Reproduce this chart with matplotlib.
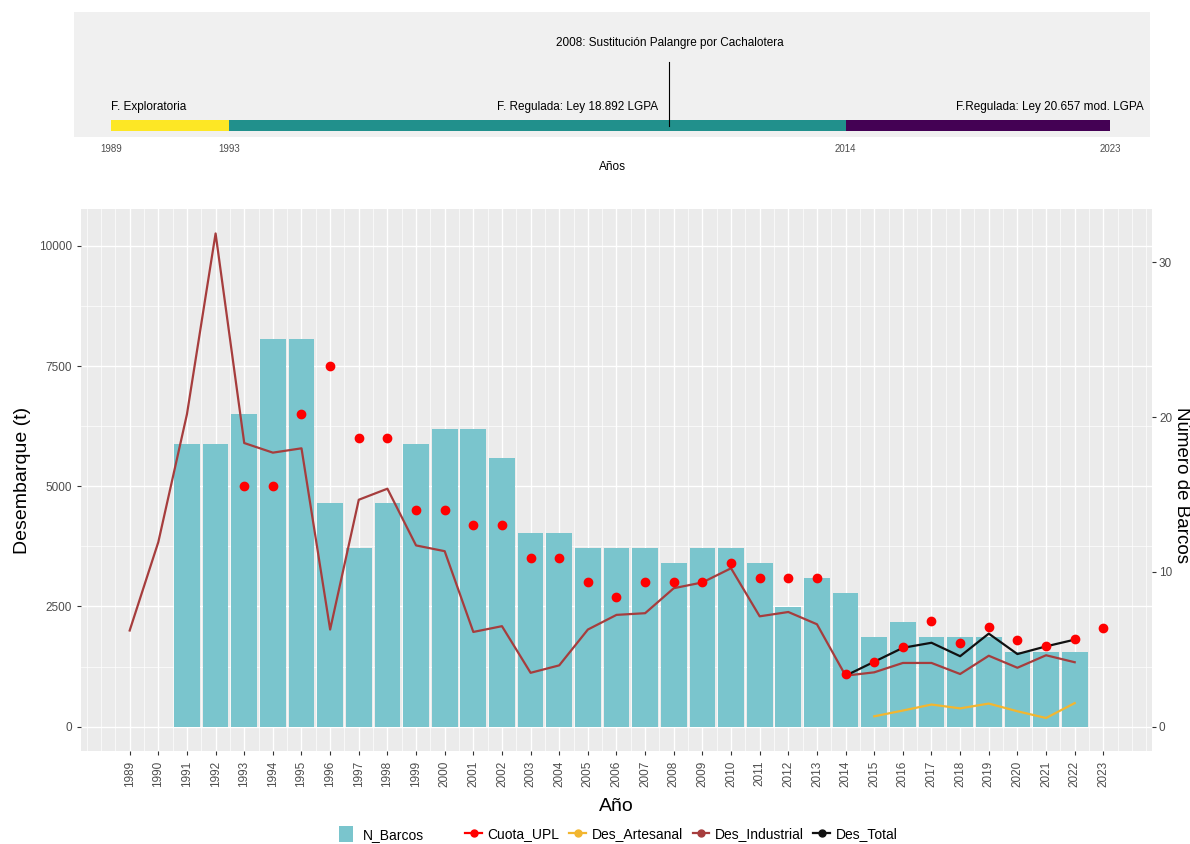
import numpy as np
import matplotlib
matplotlib.use('Agg')
import matplotlib.pyplot as plt
from matplotlib.patches import Patch
from matplotlib.lines import Line2D
from matplotlib.ticker import MultipleLocator

plt.rcParams['font.family'] = ['Liberation Sans', 'DejaVu Sans']

#Datos de la pesqueria
anios_barcos = list(range(1991, 2023))
n_barcos = [19, 19, 21, 26, 26, 15, 12, 15, 19, 20, 20, 18, 13, 13, 12, 12,
            12, 11, 12, 12, 11, 8, 10, 9, 6, 7, 6, 6, 6, 5, 5, 5]

anios_industrial = list(range(1989, 2023))
des_industrial = [2000, 3840, 6500, 10260, 5900, 5700, 5790, 2020, 4720, 4950,
                  3770, 3650, 1970, 2090, 1120, 1275, 2020, 2325, 2360, 2880,
                  3000, 3295, 2295, 2385, 2130, 1060, 1130, 1325, 1325, 1095,
                  1475, 1225, 1485, 1340]

anios_artesanal = list(range(2015, 2023))
des_artesanal = [215, 335, 460, 380, 480, 320, 180, 490]

anios_total = list(range(2014, 2023))
des_total = [1060, 1350, 1640, 1745, 1465, 1935, 1510, 1670, 1810]

anios_cuota = list(range(1993, 2024))
cuota_upl = [5000, 5000, 6500, 7500, 6000, 6000, 4500, 4500, 4200, 4200, 3500,
             3500, 3000, 2700, 3000, 3000, 3000, 3400, 3100, 3100, 3100,
             1090, 1350, 1650, 2200, 1750, 2070, 1800, 1670, 1820, 2060]

#Fases de la pesqueria (linea de tiempo)
fases_inicio = [1989, 1993, 2014]
fases_fin = [1993, 2014, 2023]
fases_texto = ['F. Exploratoria', 'F. Regulada: Ley 18.892 LGPA',
               'F.Regulada: Ley 20.657 mod. LGPA']
fases_color = ['#FDE725', '#21908C', '#440154']
hito_anio = 2008
hito_texto = '2008: Sustitución Palangre por Cachalotera'
ticks_fases = [1989, 1993, 2014, 2023]

#escalas barcos -> toneladas
escala_barras = 310
escala_eje = 322

col_barras = '#7AC5CD'
col_cuota = '#FF0000'
col_artesanal = '#F2B630'
col_industrial = '#A63D3D'
col_total = '#111111'
gris_txt = '#4D4D4D'

fig = plt.figure(figsize=(11.9, 8.44), dpi=100)

#Linea de tiempo
ax1 = fig.add_axes([74/1190, 1-137/844, (1150-74)/1190, 125/844])
ax1.set_facecolor('#F0F0F0')
ax1.set_xlim(1987.73, 2024.36)
ax1.set_ylim(0, 1)
ax1.barh(0.093, np.array(fases_fin) - np.array(fases_inicio), left=fases_inicio,
         height=0.086, color=fases_color)
ax1.plot([hito_anio, hito_anio], [0.088, 0.60], color='black', lw=0.8)
ax1.text(hito_anio, 0.754, hito_texto, ha='center', va='center', fontsize=8.5)
ax1.text(fases_inicio[0], 0.24, fases_texto[0], ha='left', va='center', fontsize=8.5)
ax1.text(2004.87, 0.24, fases_texto[1], ha='center', va='center', fontsize=8.5)
ax1.text(2024.14, 0.24, fases_texto[2], ha='right', va='center', fontsize=8.5,
         clip_on=False)
ax1.set_xticks(ticks_fases)
ax1.set_yticks([])
ax1.tick_params(axis='x', length=0, labelsize=7, labelcolor=gris_txt, pad=5)
ax1.set_xlabel('Años', fontsize=8.5, labelpad=5)
for s in ax1.spines.values():
    s.set_visible(False)

#Grafico principal
ax = fig.add_axes([81/1190, 1-751.4/844, 1071/1190, 542.8/844])
ax.set_facecolor('#EBEBEB')
ax.set_xlim(1987.3, 2024.7)
ax.set_ylim(-515, 10777)
ax.set_axisbelow(True)

ax.bar(anios_barcos, np.array(n_barcos) * escala_barras, width=0.9,
       color=col_barras, zorder=2)
ax.plot(anios_artesanal, des_artesanal, color=col_artesanal, lw=1.6, zorder=3)
ax.plot(anios_industrial, des_industrial, color=col_industrial, lw=1.6, zorder=3)
ax.plot(anios_total, des_total, color=col_total, lw=1.6, zorder=4)
ax.plot(anios_cuota, cuota_upl, 'o', color=col_cuota, markersize=6, zorder=5)

ax.set_xticks(list(range(1989, 2024)))
ax.set_xticklabels([str(a) for a in range(1989, 2024)], rotation=90)
ax.xaxis.set_minor_locator(MultipleLocator(0.5))
ax.set_yticks([0, 2500, 5000, 7500, 10000])
ax.yaxis.set_minor_locator(MultipleLocator(1250))
ax.grid(which='major', color='white', lw=1.0)
ax.grid(which='minor', color='white', lw=0.5)
ax.tick_params(which='major', length=3, width=0.8, color='#333333',
               labelsize=8.5, labelcolor=gris_txt)
ax.tick_params(which='minor', length=0)
for s in ax.spines.values():
    s.set_visible(False)

ax.set_xlabel('Año', fontsize=14, labelpad=8)
ax.set_ylabel('Desembarque (t)', fontsize=14, labelpad=6)

sec = ax.secondary_yaxis('right', functions=(lambda t: t / escala_eje,
                                             lambda b: b * escala_eje))
sec.set_yticks([0, 10, 20, 30])
sec.tick_params(length=3, width=0.8, color='#333333', labelsize=8.5,
                labelcolor=gris_txt, pad=2)
sec.spines['right'].set_visible(False)
#titulo del eje derecho
fig.text(1181.5/1190, 1 - 485/844, 'Número de Barcos', fontsize=13.5, rotation=270,
         ha='center', va='center')

#Leyendas
y_ley = 1 - 834/844
h1 = [Patch(facecolor=col_barras)]
fig.legend(h1, ['N_Barcos'], loc='center', bbox_to_anchor=(381.5/1190, y_ley),
           frameon=False, fontsize=10, handlelength=1.0, handleheight=1.3,
           handletextpad=0.7)

nombres = ['Cuota_UPL', 'Des_Artesanal', 'Des_Industrial', 'Des_Total']
colores = [col_cuota, col_artesanal, col_industrial, col_total]
h2 = [Line2D([0], [0], color=c, marker='o', markersize=5, lw=1.6) for c in colores]
fig.legend(h2, nombres, loc='center', bbox_to_anchor=(681.5/1190, y_ley),
           frameon=False, fontsize=10, ncol=4, handlelength=1.2,
           handletextpad=0.4, columnspacing=0.7)

plt.savefig('out.png', dpi=100)
